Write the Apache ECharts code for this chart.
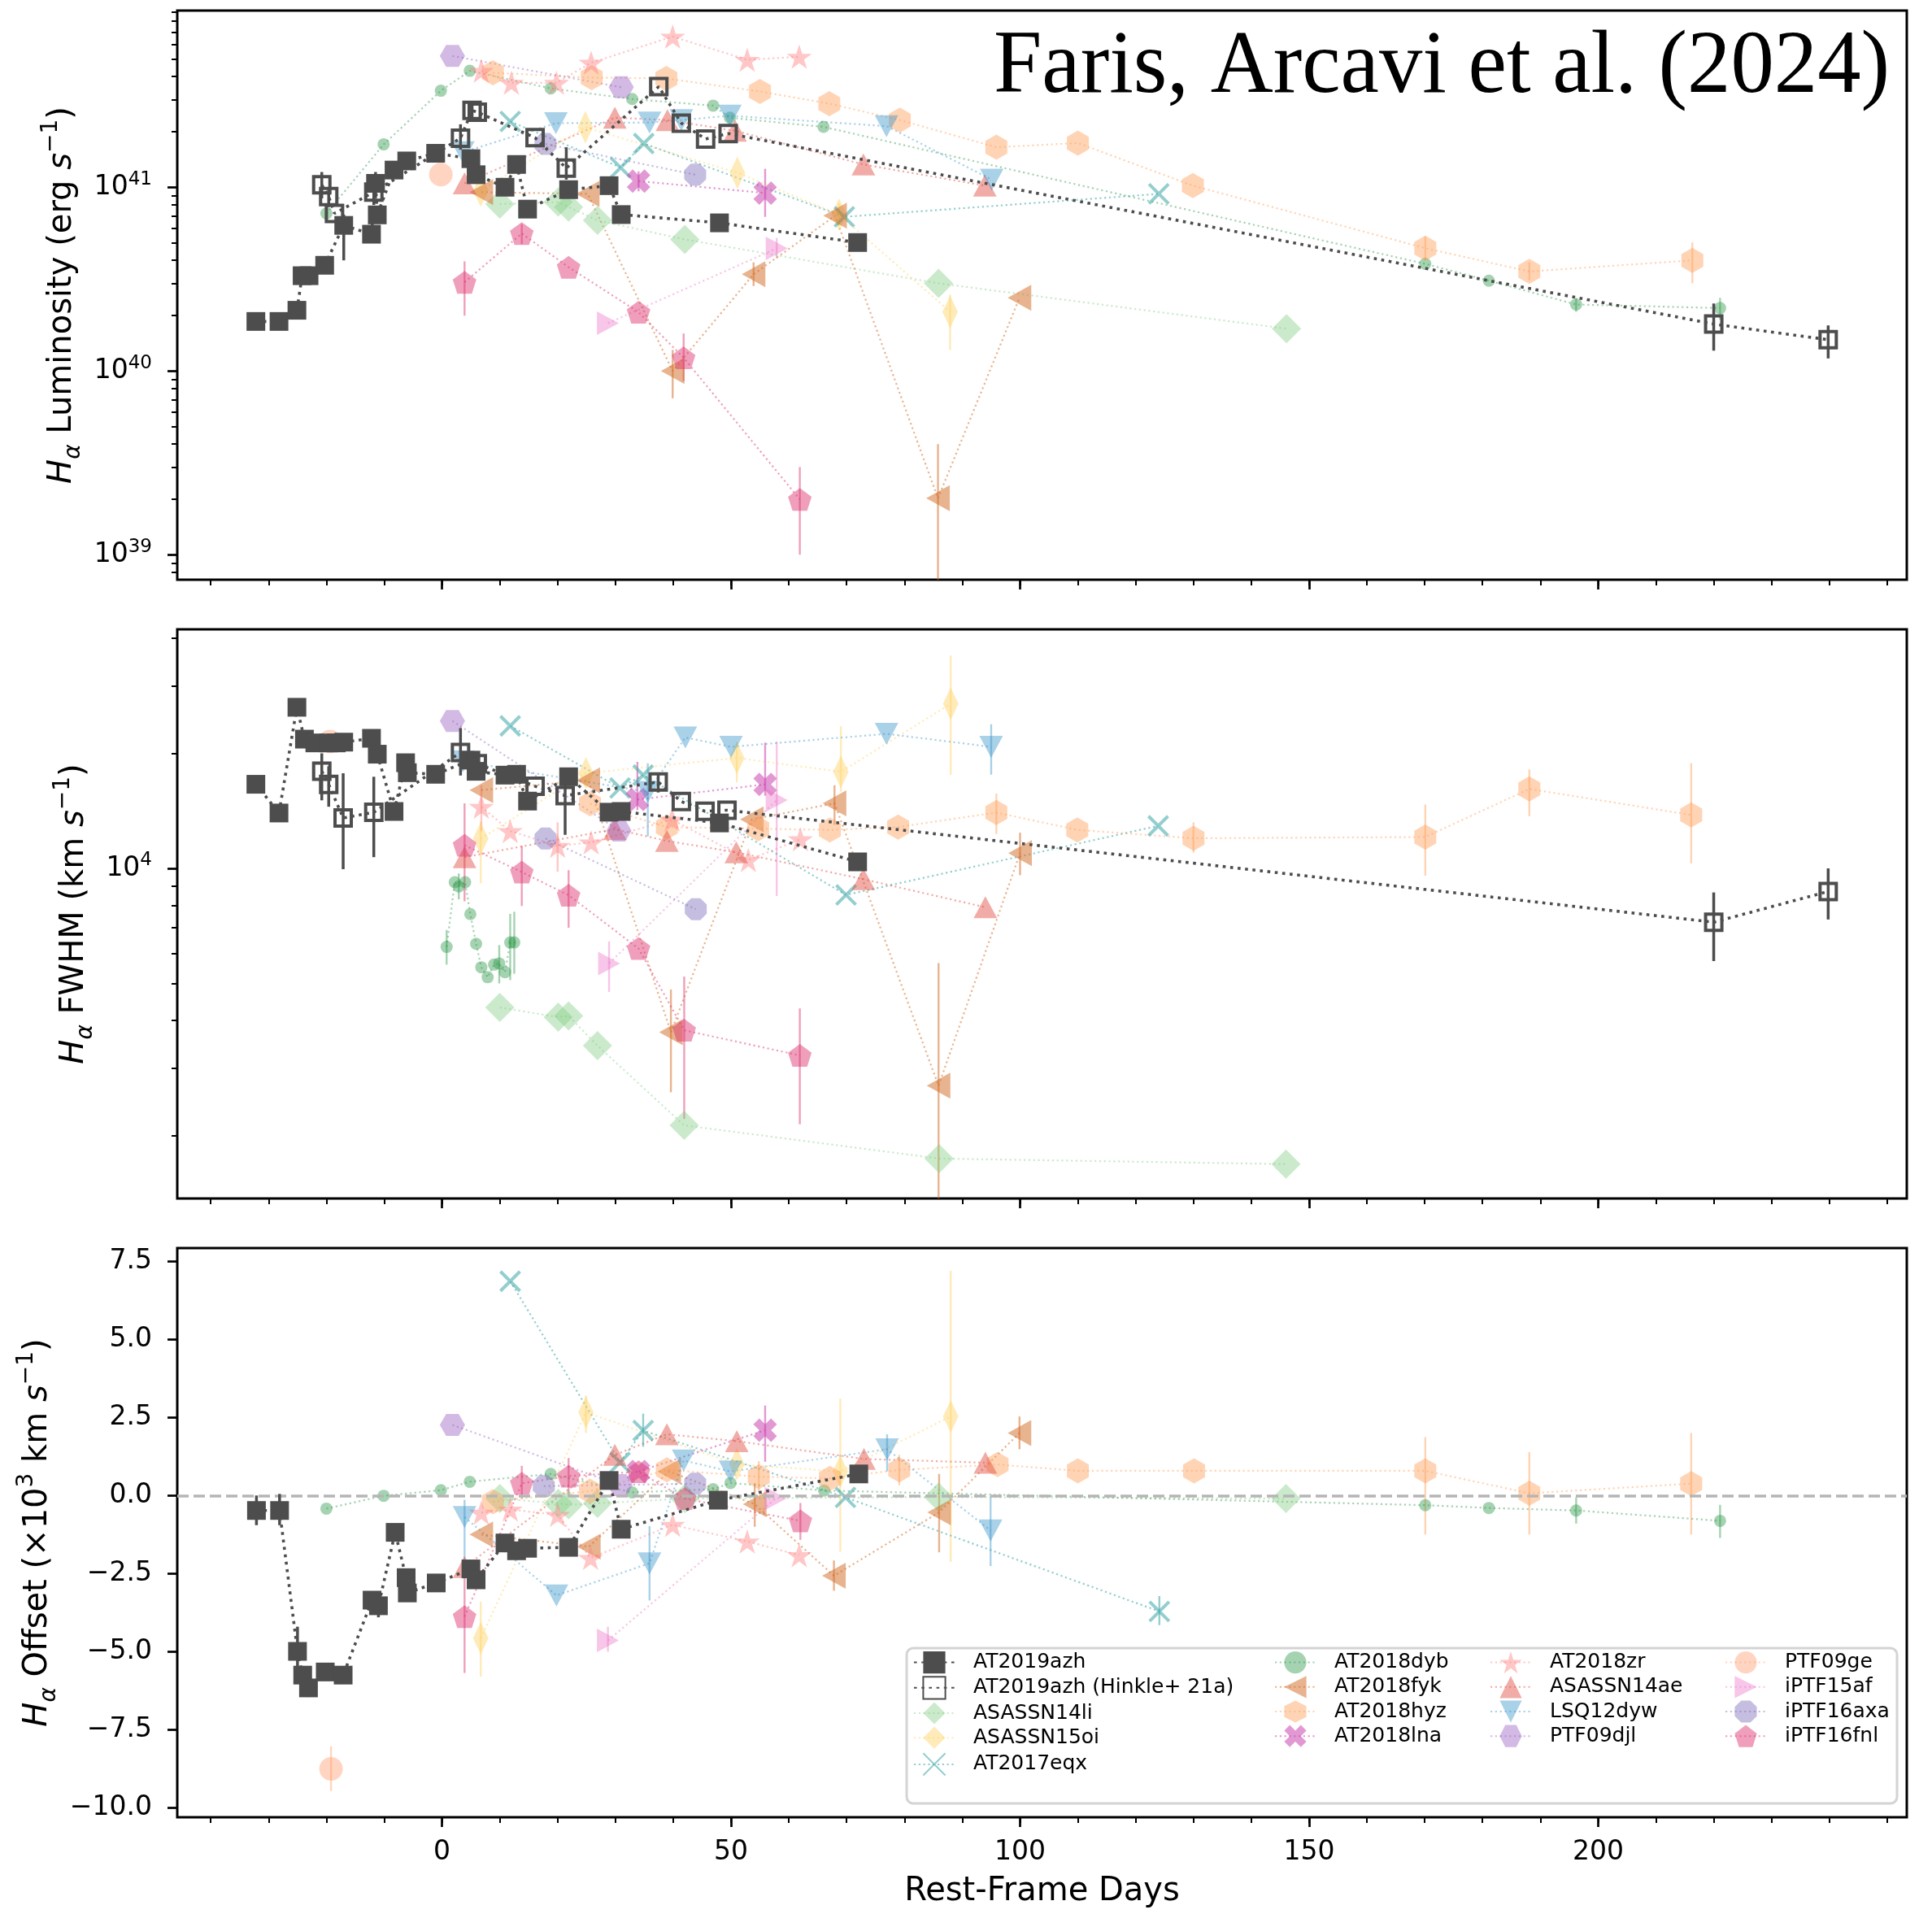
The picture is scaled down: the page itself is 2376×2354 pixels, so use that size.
<!DOCTYPE html>
<html><head><meta charset="utf-8">
<script src="https://cdn.jsdelivr.net/npm/echarts@6/dist/echarts.min.js"></script>
<style>html,body{margin:0;padding:0;background:#fff}#c{width:2376px;height:2354px}</style>
</head><body><div id="c"></div>
<script>
// ---------------- DATA ----------------
const xMajorTicks = [0, 50, 100, 150, 200];
const xMinorTicks = [-40,-30,-20,-10,0,10,20,30,40,50,60,70,80,90,100,110,120,130,140,150,160,170,180,190,200,210,220,230,240,250];
const lumMajorTicks = [1e39, 1e40, 1e41];
const lumMinorTicks = [8e38,9e38,2e39,3e39,4e39,5e39,6e39,7e39,8e39,9e39,2e40,3e40,4e40,5e40,6e40,7e40,8e40,9e40,2e41,3e41,4e41,5e41,6e41,7e41,8e41,9e41];
const fwhmMajorTicks = [1e4];
const fwhmMinorTicks = [2000,3000,4000,5000,6000,7000,8000,9000,20000,30000,40000];
const offTicks = [-10, -7.5, -5, -2.5, 0, 2.5, 5, 7.5];

// AT2019azh
const azhLum = [[-32.2,1.86e40],[-28.2,1.86e40],[-25.1,2.14e40],[-24.2,3.3e40],[-23.0,3.3e40],[-20.3,3.76e40],[-17.0,6.2e40],[-12.2,5.55e40],[-11.5,1.05e41],[-11.2,7.07e40],[-8.3,1.24e41],[-6.1,1.39e41],[-1.1,1.53e41],[5.0,1.43e41],[5.9,1.17e41],[10.9,1.0e41],[12.9,1.33e41],[14.8,7.6e40],[21.9,9.7e40],[28.9,1.02e41],[31.0,7.1e40],[48.0,6.4e40],[71.9,5.0e40]];
const azhLumErr = [[-17.0,4.0e40,7.1e40],[-11.5,8.7e40,1.21e41],[-20.3,3.5e40,4.0e40]];
const azhFwhm = [[-32.2,16600],[-28.2,13960],[-25.1,26400],[-23.8,21790],[-22.0,21300],[-19.6,21300],[-18.3,21300],[-17.0,21400],[-12.2,21900],[-11.2,19900],[-8.3,14090],[-6.3,18900],[-6.0,17800],[-1.1,17630],[5.0,19200],[5.9,17950],[10.9,17540],[12.9,17630],[14.8,15000],[21.9,17370],[28.9,14030],[31.0,14090],[48.0,13150],[71.9,10400]];
const azhFwhmErr = [[-28.2,13300,14600],[-25.1,25800,27000]];
const azhOff = [[-32.1,-0.48],[-28.1,-0.48],[-25.0,-4.99],[-24.1,-5.75],[-23.1,-6.16],[-20.2,-5.65],[-17.1,-5.75],[-12.1,-3.35],[-11.0,-3.53],[-8.1,-1.18],[-6.2,-2.63],[-6.0,-3.12],[-1.0,-2.8],[5.0,-2.35],[5.9,-2.7],[10.9,-1.52],[12.9,-1.77],[14.8,-1.69],[21.9,-1.66],[28.9,0.48],[31.0,-1.08],[47.8,-0.15],[72.1,0.69]];
const azhOffErr = [[-32.1,-0.95,0.0],[-28.1,-0.95,0.05],[-25.0,-5.5,-4.2],[-23.1,-6.45,-5.9],[-11.0,-3.9,-3.1]];
// AT2019azh (Hinkle+ 21a)
const hkLum = [[-20.8,1.03e41],[-19.6,8.9e40],[-18.6,7.2e40],[-11.8,9.4e40],[3.2,1.85e41],[5.2,2.62e41],[6.1,2.56e41],[16.1,1.86e41],[21.5,1.27e41],[37.5,3.53e41],[41.4,2.23e41],[45.6,1.83e41],[49.5,1.96e41],[220.0,1.8e40],[239.8,1.48e40]];
const hkLumErr = [[-20.8,8.7e40,1.21e41],[-19.6,7.8e40,1.0e41],[-11.8,8.0e40,1.1e41],[3.2,1.6e41,2.2e41],[5.2,2.4e41,2.85e41],[21.5,1.1e41,1.65e41],[220.0,1.29e40,2.33e40],[239.8,1.17e40,1.77e40]];
const hkFwhm = [[-20.8,17960],[-19.6,16590],[-17.1,13550],[-11.8,14020],[3.2,20100],[6.1,18790],[16.1,16410],[21.3,15500],[37.4,16830],[41.4,14960],[45.5,14110],[49.3,14200],[220.0,7230],[239.8,8700]];
const hkFwhmErr = [[-20.8,15070,20000],[-19.6,14500,18500],[-17.1,9950,17740],[-11.8,10700,17370],[3.2,17500,23300],[21.3,12240,18360],[37.4,15800,17800],[220.0,5720,8650],[239.8,7350,10000]];
// ASASSN14li
const liLum = [[10.0,8.1e40],[20.1,8.3e40],[21.9,7.8e40],[26.9,6.6e40],[42.0,5.2e40],[85.9,3.0e40],[146.1,1.7e40]];
const liFwhm = [[10.0,4325],[20.1,4080],[21.9,4110],[26.9,3435],[41.9,2125],[86.0,1740],[146.0,1683]];
const liOff = [[10.0,-0.1],[20.1,-0.25],[21.9,-0.3],[26.9,-0.25],[42.0,-0.1],[85.9,-0.05],[146.0,-0.1]];
// ASASSN15oi
const oiLum = [[6.7,9.6e40],[24.8,2.12e41],[51.1,1.2e41],[68.7,7.1e40],[87.9,2.1e40]];
const oiLumErr = [[87.9,1.3e40,2.6e40],[68.7,6.2e40,8.2e40]];
const oiFwhm = [[6.7,11970],[24.9,17750],[51.0,19450],[69.0,17900],[88.0,26960]];
const oiFwhmErr = [[6.7,9140,13250],[51.0,16800,21400],[69.0,15870,23560],[88.0,17570,36060]];
const oiOff = [[6.7,-4.57],[24.9,2.66],[51.0,1.0],[68.9,0.77],[88.0,2.53]];
const oiOffErr = [[6.7,-5.8,-3.4],[24.9,2.0,3.2],[68.9,-1.8,3.1],[88.0,-2.13,7.19]];
// AT2017eqx
const eqxLum = [[11.8,2.28e41],[30.9,1.28e41],[34.9,1.73e41],[69.6,6.9e40],[124.0,9.2e40]];
const eqxFwhm = [[11.8,23600],[30.8,16230],[34.8,17550],[69.9,8520],[123.9,12920]];
const eqxOff = [[11.8,6.86],[30.8,1.06],[34.8,2.08],[69.8,-0.06],[124.1,-3.71]];
const eqxOffErr = [[124.1,-4.15,-3.22],[34.8,1.56,2.62]];
// AT2018dyb
const dybLum = [[-20.0,7.2e40],[-10.1,1.71e41],[-0.2,3.35e41],[4.8,4.3e41],[18.8,3.45e41],[32.9,3.02e41],[46.9,2.78e41],[49.8,2.39e41],[66.0,2.13e41],[170.1,3.83e40],[181.1,3.1e40],[196.2,2.3e40],[221.1,2.2e40]];
const dybLumErr = [[221.1,1.9e40,2.5e40],[196.2,2.1e40,2.5e40]];
const dybFwhm = [[0.8,6230],[2.2,9200],[2.9,8970],[4.0,9200],[4.9,7590],[5.9,6350],[6.8,5510],[7.9,5190],[9.0,5600],[9.9,5640],[10.9,5350],[11.8,6400],[12.5,6400]];
const dybFwhmErr = [[0.8,5600,6900],[2.9,8300,9700],[9.9,5000,6300],[11.8,5100,7600],[12.5,5300,7700]];
const dybOff = [[-20.0,-0.42],[-10.1,-0.01],[-0.2,0.17],[4.8,0.44],[18.8,0.69],[32.9,0.1],[46.9,0.2],[49.9,0.4],[66.1,0.16],[170.1,-0.31],[181.1,-0.4],[196.2,-0.48],[221.1,-0.81]];
const dybOffErr = [[221.1,-1.36,-0.3],[196.2,-0.9,-0.06]];
// AT2018fyk
const fykLum = [[6.8,9.4e40],[25.2,9.2e40],[39.9,1.0e40],[53.9,3.36e40],[68.0,7.0e40],[85.8,2.03e39],[99.9,2.5e40]];
const fykLumErr = [[39.9,7.1e39,1.3e40],[85.8,5e38,4.0e39],[53.9,2.9e40,3.9e40]];
const fykFwhm = [[6.8,16030],[25.3,17000],[39.6,3725],[53.6,13430],[67.9,14800],[85.9,2700],[100.0,10960]];
const fykFwhmErr = [[39.6,2595,4820],[85.9,1000,5650],[100.0,9600,12400],[67.9,13000,16500]];
const fykOff = [[6.8,-1.25],[25.4,-1.64],[39.3,0.77],[54.1,-0.28],[67.8,-2.57],[86.0,-0.54],[99.9,2.0]];
const fykOffErr = [[86.0,-1.82,0.69],[99.9,1.48,2.53],[67.8,-3.05,-2.08],[54.1,-1.0,0.4]];
// AT2018hyz
const hyzLum = [[8.8,4.2e41],[25.9,3.95e41],[38.8,3.91e41],[55.0,3.32e41],[67.0,2.85e41],[79.2,2.32e41],[95.9,1.65e41],[110.0,1.74e41],[129.9,1.02e41],[170.1,4.66e40],[188.1,3.48e40],[216.3,4.0e40]];
const hyzLumErr = [[216.3,3.0e40,5.0e40],[170.1,4.0e40,5.4e40],[188.1,3.1e40,3.9e40]];
const hyzFwhm = [[25.6,14760],[38.9,12830],[54.7,12700],[67.1,12610],[78.9,12830],[95.9,14000],[109.9,12610],[130.0,11990],[170.1,12080],[188.1,16140],[216.1,13800]];
const hyzFwhmErr = [[170.1,9570,14690],[188.1,13700,18160],[216.1,10310,18850],[95.9,12300,15700],[130.0,11000,13200]];
const hyzOff = [[8.8,-0.2],[25.6,0.14],[38.9,0.82],[54.8,0.6],[67.1,0.55],[79.1,0.82],[96.1,0.99],[110.0,0.79],[130.1,0.79],[170.1,0.79],[188.1,0.07],[216.1,0.38]];
const hyzOffErr = [[170.1,-1.25,1.87],[188.1,-1.25,1.39],[216.1,-1.25,2.0],[79.1,0.33,1.3],[54.8,0.1,1.1]];
// AT2018lna
const lnaLum = [[34.0,1.08e41],[55.9,9.3e40]];
const lnaLumErr = [[55.9,6.9e40,1.26e41],[34.0,9.5e40,1.22e41]];
const lnaFwhm = [[33.8,15140],[55.9,16590]];
const lnaFwhmErr = [[55.9,15490,21330],[33.8,14200,19000]];
const lnaOff = [[34.0,0.77],[55.9,2.09]];
const lnaOffErr = [[55.9,1.08,2.88]];
// AT2018zr
const zrLum = [[6.8,4.3e41],[12.0,3.7e41],[19.8,3.7e41],[25.8,4.76e41],[39.9,6.6e41],[52.8,4.94e41],[61.8,5.13e41]];
const zrFwhm = [[6.8,14500],[11.8,12520],[20.0,11450],[25.8,11700],[39.8,13420],[53.0,10520],[62.0,11920]];
const zrFwhmErr = [[20.0,9800,13200],[6.8,12500,16500]];
const zrOff = [[6.8,-0.55],[11.8,-0.45],[20.0,-0.62],[25.7,-2.0],[39.9,-0.94],[52.8,-1.47],[61.8,-1.91]];
// ASASSN14ae
const aeLum = [[3.9,1.05e41],[29.9,2.39e41],[39.0,2.32e41],[50.7,2.03e41],[72.9,1.33e41],[93.9,1.02e41]];
const aeFwhm = [[3.9,10700],[29.9,12670],[38.9,11800],[50.9,11020],[72.9,9370],[94.0,7910]];
const aeOff = [[3.9,-2.29],[29.9,1.3],[38.9,1.96],[51.0,1.74],[73.0,1.17],[94.0,1.05]];
// LSQ12dyw
const lsqLum = [[3.6,1.55e41],[19.7,2.23e41],[35.9,2.25e41],[41.4,2.32e41],[49.8,2.45e41],[76.9,2.15e41],[95.1,1.1e41]];
const lsqFwhm = [[3.6,19050],[35.6,15860],[42.1,22000],[50.0,20800],[76.9,22500],[95.0,20800]];
const lsqFwhmErr = [[95.0,17590,23830],[35.6,12130,18840]];
const lsqOff = [[3.9,-0.69],[19.8,-3.2],[35.9,-2.17],[41.8,1.12],[49.9,0.77],[77.0,1.48],[94.9,-1.12]];
const lsqOffErr = [[3.9,-2.63,-0.14],[35.9,-3.36,-0.98],[77.0,0.77,1.96],[94.9,-2.26,-0.02]];
// PTF09djl
const djlLum = [[1.8,5.18e41],[31.0,3.5e41]];
const djlFwhm = [[1.8,24320],[30.6,12560]];
const djlOff = [[1.8,2.26],[30.8,0.33]];
// PTF09ge
const geLum = [[-0.2,1.17e41]];
const geFwhm = [[-19.4,21480]];
const geOff = [[-19.2,-8.75]];
const geOffErr = [[-19.2,-9.46,-8.03]];
// iPTF15af
const afLum = [[28.7,1.82e40],[57.9,4.65e40]];
const afLumErr = [[57.9,4.1e40,5.3e40]];
const afFwhm = [[28.9,5640],[57.9,15100]];
const afFwhmErr = [[28.9,4750,6440],[57.9,8470,21480]];
const afOff = [[28.7,-4.64],[57.7,-0.1]];
const afOffErr = [[28.7,-5.0,-4.2]];
// iPTF16axa
const axaLum = [[17.9,1.72e41],[43.8,1.17e41]];
const axaFwhm = [[17.9,11970],[43.9,7820]];
const axaOff = [[17.6,0.3],[43.8,0.38]];
// iPTF16fnl
const fnlLum = [[3.9,3.04e40],[13.8,5.6e40],[21.9,3.67e40],[34.0,2.09e40],[41.8,1.18e40],[61.9,2.0e39]];
const fnlLumErr = [[3.9,2.0e40,3.95e40],[41.8,8.8e39,1.6e40],[61.9,1.0e39,3.0e39],[13.8,4.9e40,6.3e40]];
const fnlFwhm = [[3.9,11500],[13.8,9780],[21.9,8510],[34.0,6170],[41.9,3770],[61.9,3240]];
const fnlFwhmErr = [[41.9,2210,5210],[61.9,2140,4300],[21.9,6990,9890],[13.8,7970,11450],[3.9,8200,14800]];
const fnlOff = [[3.9,-3.88],[13.8,0.39],[21.9,0.62],[34.0,0.76],[42.0,-0.1],[62.0,-0.81]];
const fnlOffErr = [[3.9,-5.68,-2.35],[62.0,-1.42,-0.24],[13.8,-0.1,0.95],[21.9,0.0,1.2]];

const legendCols = [
  ['AT2019azh','AT2019azh (Hinkle+ 21a)','ASASSN14li','ASASSN15oi','AT2017eqx'],
  ['AT2018dyb','AT2018fyk','AT2018hyz','AT2018lna'],
  ['AT2018zr','ASASSN14ae','LSQ12dyw','PTF09djl'],
  ['PTF09ge','iPTF15af','iPTF16axa','iPTF16fnl']
];
const TITLE = 'Faris, Arcavi et al. (2024)';

// ---------------- STYLE / LAYOUT ----------------
const FONT = 'DejaVu Sans';
const X_MIN = -45.8, X_MAX = 253.4;
const GRID_L = 218, GRID_W = 2127, GRID_H = 700;
const GRID_TOPS = [13, 774, 1535];
const LUM_RANGE = [7.31e38, 9.15e41];
const FWHM_RANGE = [1368, 42230];
const OFF_RANGE = [-10.3, 7.92];

function poly(pts){ return 'path://M' + pts.map(p => p[0].toFixed(4) + ',' + p[1].toFixed(4)).join('L') + 'Z'; }
function regular(n, startDeg){ const a=[]; for(let k=0;k<n;k++){ const t=(startDeg+360*k/n)*Math.PI/180; a.push([Math.cos(t), -Math.sin(t)]); } return a; }
function starPts(){ const a=[]; for(let k=0;k<10;k++){ const r=k%2?0.381966:1; const t=(90+36*k)*Math.PI/180; a.push([r*Math.cos(t), -r*Math.sin(t)]); } return a; }
function xFilledPts(){ const b=[[-1,-3],[-1,-1],[-3,-1],[-3,1],[-1,1],[-1,3],[1,3],[1,1],[3,1],[3,-1],[1,-1],[1,-3]]; const c=Math.SQRT1_2; return b.map(p=>[(p[0]-p[1])*c,(p[0]+p[1])*c]); }
const SYM = {
  star: poly(starPts()),
  hexV: poly(regular(6, 90)),
  hexH: poly(regular(6, 0)),
  oct: poly(regular(8, 22.5)),
  pent: poly(regular(5, 90)),
  xfill: poly(xFilledPts()),
  xline: 'path://M0,0L10,10M10,0L0,10',
  down: 'path://M0,0L2,0L1,2Z',
  left: 'path://M2,0L2,2L0,1Z',
  right: 'path://M0,0L0,2L2,1Z'
};
const DOT = [2.2, 3.6];
const objects = [
  {name:'AT2019azh', d:[azhLum,azhFwhm,azhOff], e:[azhLumErr,azhFwhmErr,azhOffErr], symbol:'rect', size:23, fill:'#4d4d4d', line:'#4d4d4d', lw:3.6, dash:[3.6,5.6], err:'#4d4d4d', ew:3.5, z:6},
  {name:'AT2019azh (Hinkle+ 21a)', d:[hkLum,hkFwhm,null], e:[hkLumErr,hkFwhmErr,null], symbol:'rect', size:20, fill:'rgba(255,255,255,0)', border:'#4d4d4d', bw:4, line:'#4d4d4d', lw:3.6, dash:[3.6,5.6], err:'#4d4d4d', ew:3.5, z:6},
  {name:'ASASSN14li', d:[liLum,liFwhm,liOff], symbol:'diamond', size:[36,36], fill:'rgba(130,205,130,0.42)', z:3},
  {name:'ASASSN15oi', d:[oiLum,oiFwhm,oiOff], e:[oiLumErr,oiFwhmErr,oiOffErr], symbol:'diamond', size:[19,40], fill:'rgba(255,210,100,0.45)', z:3},
  {name:'AT2017eqx', d:[eqxLum,eqxFwhm,eqxOff], e:[null,null,eqxOffErr], symbol:SYM.xline, size:[24,24], fill:'none', border:'rgba(60,165,165,0.55)', bw:4, line:'rgba(60,165,165,0.55)', z:3},
  {name:'AT2018dyb', d:[dybLum,dybFwhm,dybOff], e:[dybLumErr,dybFwhmErr,dybOffErr], symbol:'circle', size:15, fill:'rgba(40,150,70,0.42)', z:3},
  {name:'AT2018fyk', d:[fykLum,fykFwhm,fykOff], e:[fykLumErr,fykFwhmErr,fykOffErr], symbol:SYM.left, size:[29,32], fill:'rgba(210,110,40,0.52)', z:3},
  {name:'AT2018hyz', d:[hyzLum,hyzFwhm,hyzOff], e:[hyzLumErr,hyzFwhmErr,hyzOffErr], symbol:SYM.hexV, size:[27,31], fill:'rgba(255,160,90,0.45)', z:3},
  {name:'AT2018lna', d:[lnaLum,lnaFwhm,lnaOff], e:[lnaLumErr,lnaFwhmErr,lnaOffErr], symbol:SYM.xfill, size:[29,29], fill:'rgba(200,60,170,0.52)', z:3},
  {name:'AT2018zr', d:[zrLum,zrFwhm,zrOff], e:[null,zrFwhmErr,null], symbol:SYM.star, size:[31,30], fill:'rgba(255,130,130,0.45)', z:3},
  {name:'ASASSN14ae', d:[aeLum,aeFwhm,aeOff], symbol:'triangle', size:[29,27], fill:'rgba(225,70,60,0.45)', z:3},
  {name:'LSQ12dyw', d:[lsqLum,lsqFwhm,lsqOff], e:[null,lsqFwhmErr,lsqOffErr], symbol:SYM.down, size:[29,27], fill:'rgba(50,145,200,0.42)', z:3},
  {name:'PTF09djl', d:[djlLum,djlFwhm,djlOff], symbol:SYM.hexH, size:[31,27], fill:'rgba(150,90,190,0.42)', z:3},
  {name:'PTF09ge', d:[geLum,geFwhm,geOff], e:[null,null,geOffErr], symbol:'circle', size:29, fill:'rgba(255,150,100,0.4)', z:3},
  {name:'iPTF15af', d:[afLum,afFwhm,afOff], e:[afLumErr,afFwhmErr,afOffErr], symbol:SYM.right, size:[27,29], fill:'rgba(235,120,200,0.42)', z:3},
  {name:'iPTF16axa', d:[axaLum,axaFwhm,axaOff], symbol:SYM.oct, size:[27,27], fill:'rgba(120,100,180,0.42)', z:3},
  {name:'iPTF16fnl', d:[fnlLum,fnlFwhm,fnlOff], e:[fnlLumErr,fnlFwhmErr,fnlOffErr], symbol:SYM.pent, size:[29,28], fill:'rgba(220,50,110,0.47)', z:3}
];

const series = [];
objects.forEach(o => {
  for (let p = 0; p < 3; p++) {
    const data = o.d[p];
    if (!data) continue;
    const lineColor = o.line || o.fill;
    series.push({
      type:'line', name:o.name, xAxisIndex:2*p, yAxisIndex:2*p, data:data,
      symbol:o.symbol, symbolSize:o.size, showSymbol:true, clip:true, animation:false,
      lineStyle:{color:lineColor, width:o.lw || 2.2, type:o.dash || DOT},
      itemStyle:{color:o.fill, borderColor:o.border || 'rgba(0,0,0,0)', borderWidth:o.bw || 0},
      emphasis:{disabled:true}, z:o.z
    });
    const err = o.e && o.e[p];
    if (err) {
      const ec = o.err || lineColor, ew = o.ew || 2.4;
      series.push({
        type:'custom', name:o.name + ' err', xAxisIndex:2*p, yAxisIndex:2*p, data:err,
        encode:{x:0, y:[1,2]}, clip:true, silent:true, animation:false, z:o.z - 1,
        renderItem:function(params, api){
          const a = api.coord([api.value(0), api.value(1)]);
          const b = api.coord([api.value(0), api.value(2)]);
          return {type:'line', shape:{x1:a[0], y1:a[1], x2:b[0], y2:b[1]}, style:{stroke:ec, lineWidth:ew}};
        }
      });
    }
  }
});
// zero line in offset panel
series.push({
  type:'line', name:'zero', xAxisIndex:4, yAxisIndex:4, data:[], z:1, silent:true,
  markLine:{silent:true, symbol:'none', label:{show:false}, animation:false,
    lineStyle:{color:'#b5b5b5', type:[14,6], width:3.5}, data:[{yAxis:0}]}
});

const richName = {
  i:{fontStyle:'italic', fontSize:40, fontFamily:FONT, lineHeight:56},
  sub:{fontStyle:'italic', fontSize:28, fontFamily:FONT, verticalAlign:'bottom', lineHeight:56},
  sup:{fontSize:28, fontFamily:FONT, verticalAlign:'top', lineHeight:56},
  n:{fontSize:40, fontFamily:FONT, lineHeight:56}
};
const richTick = { sup:{fontSize:23, fontFamily:FONT, verticalAlign:'top', lineHeight:42, color:'#000'} };
const tickMajor = {length:12, lineStyle:{color:'#000', width:2.7}};
const tickMinor = {length:7, lineStyle:{color:'#000', width:2}};
const noLine = {show:false, onZero:false};

const grids = GRID_TOPS.map(t => ({left:GRID_L, top:t, width:GRID_W, height:GRID_H, show:true, borderColor:'#000', borderWidth:3, backgroundColor:'rgba(0,0,0,0)'}));

const xAxes = [];
for (let p = 0; p < 3; p++) {
  xAxes.push({type:'value', gridIndex:p, position:'bottom', min:X_MIN, max:X_MAX, splitLine:{show:false}, axisLine:noLine,
    axisTick:Object.assign({show:true, customValues:xMajorTicks}, tickMajor),
    axisLabel:{show:p===2, customValues:xMajorTicks, fontSize:33, fontFamily:FONT, color:'#000', margin:27},
    name:p===2 ? 'Rest-Frame Days' : '', nameLocation:'middle', nameGap:72,
    nameTextStyle:{fontSize:40, fontFamily:FONT, color:'#000'}});
  xAxes.push({type:'value', gridIndex:p, position:'bottom', min:X_MIN, max:X_MAX, splitLine:{show:false}, axisLine:noLine,
    axisTick:Object.assign({show:true, customValues:xMinorTicks}, tickMinor), axisLabel:{show:false}});
}
const powLabel = v => '10{sup|' + Math.round(Math.log10(v)) + '}';
const yAxes = [
  {type:'log', logBase:10, gridIndex:0, position:'left', min:LUM_RANGE[0], max:LUM_RANGE[1], splitLine:{show:false}, axisLine:noLine,
   axisTick:Object.assign({show:true, customValues:lumMajorTicks}, tickMajor),
   axisLabel:{customValues:lumMajorTicks, formatter:powLabel, rich:richTick, fontSize:33, lineHeight:42, fontFamily:FONT, color:'#000', margin:31},
   name:'{i|H}{sub|α}{n| Luminosity (erg }{i|s}{sup|−1}{n|)}', nameLocation:'middle', nameRotate:90, nameGap:112,
   nameTextStyle:{fontSize:40, fontFamily:FONT, color:'#000', rich:richName}},
  {type:'log', logBase:10, gridIndex:0, position:'left', min:LUM_RANGE[0], max:LUM_RANGE[1], splitLine:{show:false}, axisLine:noLine,
   axisTick:Object.assign({show:true, customValues:lumMinorTicks}, tickMinor), axisLabel:{show:false}},
  {type:'log', logBase:10, gridIndex:1, position:'left', min:FWHM_RANGE[0], max:FWHM_RANGE[1], splitLine:{show:false}, axisLine:noLine,
   axisTick:Object.assign({show:true, customValues:fwhmMajorTicks}, tickMajor),
   axisLabel:{customValues:fwhmMajorTicks, formatter:powLabel, rich:richTick, fontSize:33, lineHeight:42, fontFamily:FONT, color:'#000', margin:31},
   name:'{i|H}{sub|α}{n| FWHM (km }{i|s}{sup|−1}{n|)}', nameLocation:'middle', nameRotate:90, nameGap:97,
   nameTextStyle:{fontSize:40, fontFamily:FONT, color:'#000', rich:richName}},
  {type:'log', logBase:10, gridIndex:1, position:'left', min:FWHM_RANGE[0], max:FWHM_RANGE[1], splitLine:{show:false}, axisLine:noLine,
   axisTick:Object.assign({show:true, customValues:fwhmMinorTicks}, tickMinor), axisLabel:{show:false}},
  {type:'value', gridIndex:2, position:'left', min:OFF_RANGE[0], max:OFF_RANGE[1], splitLine:{show:false}, axisLine:noLine,
   axisTick:Object.assign({show:true, customValues:offTicks}, tickMajor),
   axisLabel:{customValues:offTicks, formatter:v => (v < 0 ? '−' : '') + Math.abs(v).toFixed(1), fontSize:33, fontFamily:FONT, color:'#000', margin:31},
   name:'{i|H}{sub|α}{n| Offset (×10}{sup|3}{n| km }{i|s}{sup|−1}{n|)}', nameLocation:'middle', nameRotate:90, nameGap:140,
   nameTextStyle:{fontSize:40, fontFamily:FONT, color:'#000', rich:richName}},
  {type:'value', gridIndex:2, position:'left', min:OFF_RANGE[0], max:OFF_RANGE[1], show:false, axisLine:noLine}
];

const legendLefts = [1123, 1567, 1832, 2121];
const legends = legendCols.map((names, i) => ({
  data:names, orient:'vertical', left:legendLefts[i], top:2031, padding:0, itemGap:3,
  itemWidth:50, itemHeight:34, selectedMode:false, z:10,
  textStyle:{fontSize:25, fontFamily:FONT, color:'#000', padding:[0,0,0,18]}
}));

const cv = document.createElement('canvas').getContext('2d');
cv.font = '111px "Liberation Serif"';
const titleScale = 1102 / cv.measureText(TITLE).width;

const chart = echarts.init(document.getElementById('c'), null, {renderer:'canvas', width:2376, height:2354});
chart.setOption({
  animation:false, backgroundColor:'#fff', textStyle:{fontFamily:FONT},
  grid:grids, xAxis:xAxes, yAxis:yAxes, legend:legends, series:series,
  graphic:[
    {type:'rect', z:5, shape:{x:1115, y:2027, width:1218, height:191, r:8}, style:{fill:'rgba(255,255,255,0.8)', stroke:'#d4d4d4', lineWidth:3}},
    {type:'text', z:10, x:2324, y:84, scaleX:titleScale, style:{text:TITLE, font:'111px "Liberation Serif"', fill:'#000', align:'right', textAlign:'right', verticalAlign:'middle', textVerticalAlign:'middle'}}
  ]
});
</script></body></html>
